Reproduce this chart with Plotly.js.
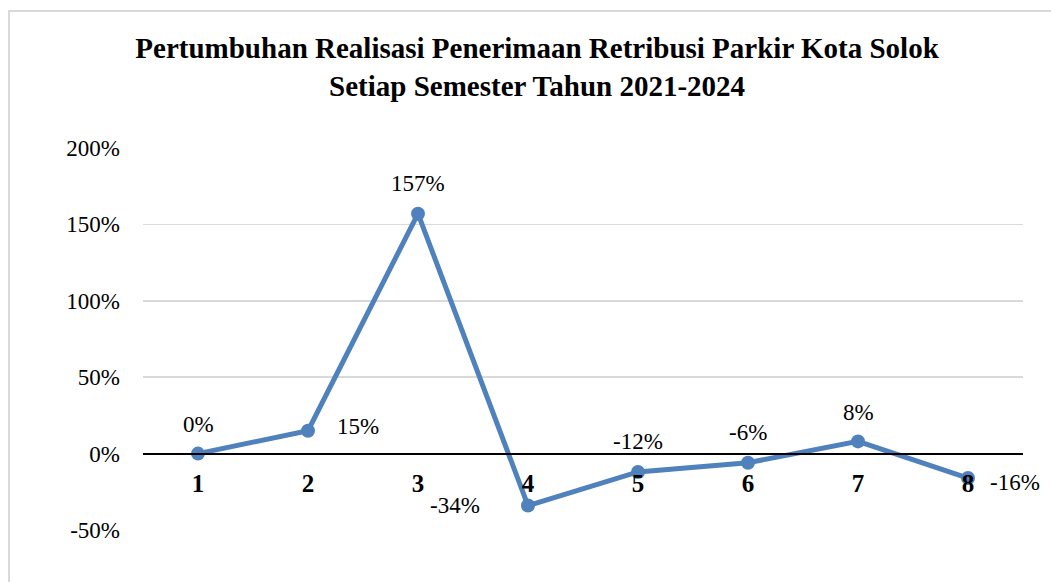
<!DOCTYPE html>
<html>
<head>
<meta charset="utf-8">
<script src="https://cdn.plot.ly/plotly-3.0.1.min.js"></script>
<style>
  html, body { margin: 0; padding: 0; background: #ffffff; overflow: hidden; }
  #frame { position: absolute; left: 8px; top: 10px; width: 1200px; height: 800px; border: 2px solid #d9d9d9; box-sizing: border-box; }
  #chart { position: absolute; left: 0; top: 0; width: 1051px; height: 582px; }
</style>
</head>
<body>
<div id="frame"></div>
<div id="chart"></div>
<script>
const categories = ['1', '2', '3', '4', '5', '6', '7', '8'];
const growth = [0.0, 0.15, 1.57, -0.34, -0.12, -0.06, 0.08, -0.16];
const dataLabels = ['0%', '15%', '157%', '-34%', '-12%', '-6%', '8%', '-16%'];
const yTickValues = [-0.5, 0, 0.5, 1.0, 1.5, 2.0];
const yTickLabels = ['-50%', '0%', '50%', '100%', '150%', '200%'];

// label offsets in pixels (style only)
const labelDx = [0, 50, 0, -73, 0, 0, 0, 47];
const labelDy = [29, 4, 30, 0, 30, 30, 29, -4];

const yMin = -0.5, yMax = 2.0;
const zeroPos = (0 - yMin) / (yMax - yMin);
const serif = 'Liberation Serif, Times New Roman, serif';

const trace = {
  x: categories,
  y: growth,
  type: 'scatter',
  mode: 'lines+markers',
  line: { color: '#4f81bd', width: 5 },
  marker: { color: '#4f81bd', size: 14 },
  cliponaxis: false,
  hoverinfo: 'skip'
};

const annotations = categories.map((c, i) => ({
  x: i, y: growth[i], xref: 'x', yref: 'y',
  text: dataLabels[i], showarrow: false,
  xanchor: 'center', yanchor: 'middle',
  xshift: labelDx[i], yshift: labelDy[i],
  font: { family: serif, size: 23, color: '#000000' }
}));

const layout = {
  width: 1051,
  height: 582,
  margin: { l: 143, r: 28, t: 148, b: 52 },
  paper_bgcolor: 'rgba(0,0,0,0)',
  plot_bgcolor: 'rgba(0,0,0,0)',
  showlegend: false,
  title: {
    text: '<b>Pertumbuhan Realisasi Penerimaan Retribusi Parkir Kota Solok<br>Setiap Semester Tahun 2021-2024</b>',
    font: { family: serif, size: 29, color: '#000000' },
    x: 0.511,
    xanchor: 'center',
    y: 0.9,
    yanchor: 'middle'
  },
  annotations: annotations,
  xaxis: {
    type: 'category',
    categoryorder: 'array',
    categoryarray: categories,
    range: [-0.5, 7.5],
    anchor: 'free',
    position: zeroPos,
    showline: true,
    linecolor: '#000000',
    linewidth: 2,
    showgrid: false,
    zeroline: false,
    ticks: '',
    ticklen: 0,
    ticklabelstandoff: 7,
    tickfont: { family: serif, size: 25, color: '#000000', weight: 'bold' },
    fixedrange: true
  },
  yaxis: {
    range: [yMin, yMax],
    tickvals: yTickValues,
    ticktext: yTickLabels,
    showgrid: true,
    gridcolor: '#d9d9d9',
    gridwidth: 1.5,
    zeroline: false,
    showline: false,
    ticks: '',
    ticklabelstandoff: 22,
    tickfont: { family: serif, size: 23, color: '#000000' },
    fixedrange: true
  }
};

Plotly.newPlot('chart', [trace], layout, { displayModeBar: false, staticPlot: true });
</script>
</body>
</html>
